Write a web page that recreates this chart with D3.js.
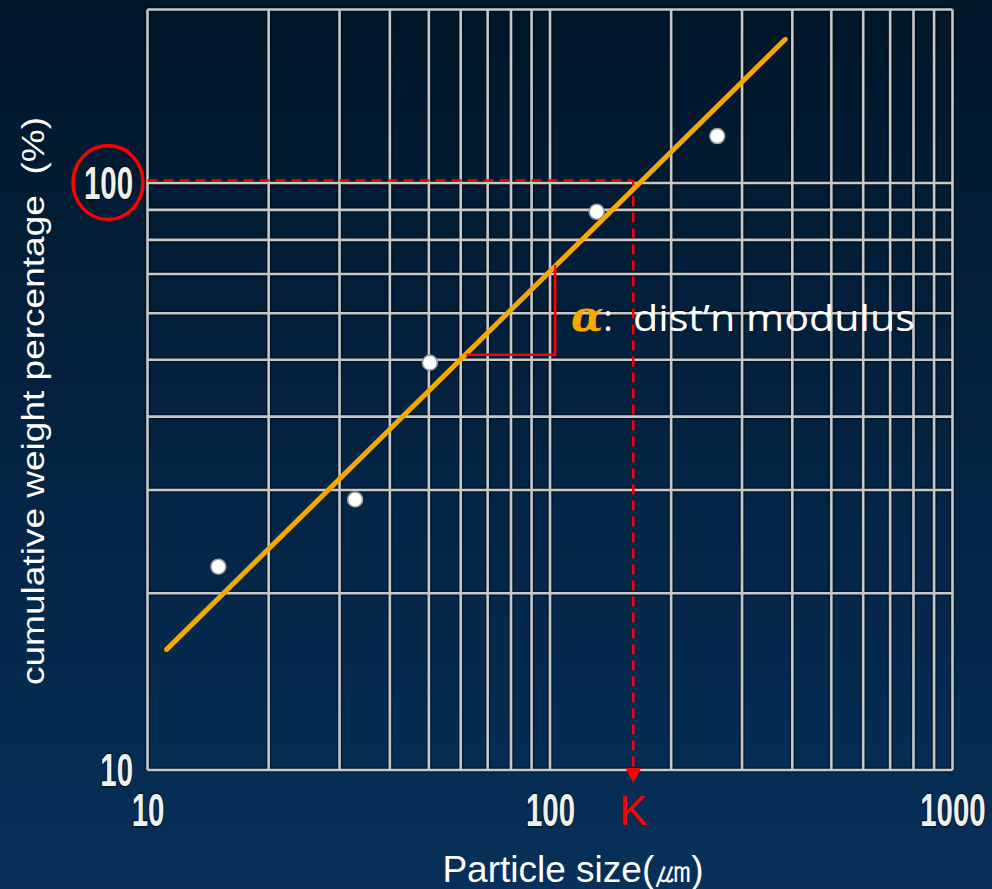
<!DOCTYPE html>
<html>
<head>
<meta charset="utf-8">
<script src="https://cdn.jsdelivr.net/npm/d3@7/dist/d3.min.js"></script>
<style>
  body { margin: 0; background: #001629; }
  svg { display: block; }
</style>
</head>
<body>
<div id="chart-area"></div>
<script>
// Tick labels and grid values
var xTicks = [10, 100, 1000];
var yTicks = [10, 100];
var xGrid = [10, 20, 30, 40, 50, 60, 70, 80, 90, 100, 200, 300, 400, 500, 600, 700, 800, 900, 1000];
var yGrid = [10, 20, 30, 40, 50, 60, 70, 80, 90, 100];

// Measured points: particle size (um) vs cumulative weight percentage
var sizes = [15.0, 32.8, 50.3, 130.6, 260.4];
var cumPct = [22.2, 28.9, 49.4, 89.3, 120.2];

// Fitted line end points
var fitSize = [11.16, 384.2];
var fitPct = [16.05, 175.7];

// K marker (size where the line crosses 100 %)
var kSize = 161;
var kPct = 101;

// Slope triangle corners
var slopeSize = [62, 103];
var slopePct = [51, 72.5];

var width = 992, height = 889;

var svg = d3.select("#chart-area")
    .append("svg")
        .attr("width", width)
        .attr("height", height);

// Background gradient
var defs = svg.append("defs");
var grad = defs.append("linearGradient")
    .attr("id", "bg")
    .attr("x1", 0).attr("y1", 0)
    .attr("x2", 0).attr("y2", 1);
grad.append("stop").attr("offset", "0%").attr("stop-color", "#001629");
grad.append("stop").attr("offset", "100%").attr("stop-color", "#07305a");

svg.append("rect")
    .attr("width", width)
    .attr("height", height)
    .attr("fill", "url(#bg)");

// Scales
var x = d3.scaleLog()
    .domain([10, 1000])
    .range([147.5, 952.5]);

var y = d3.scaleLog()
    .domain([10, 100])
    .range([770, 183]);

var yTop = y.invert(9.5);

// Grid
var grid = svg.append("g").attr("class", "grid");

function gridLines(sel, color, w, op) {
    sel.selectAll(null)
        .data(xGrid)
        .enter().append("line")
            .attr("x1", function(d) { return x(d); })
            .attr("x2", function(d) { return x(d); })
            .attr("y1", y(yTop))
            .attr("y2", y(10))
            .attr("stroke", color)
            .attr("stroke-width", w)
            .attr("opacity", op);

    sel.selectAll(null)
        .data(yGrid.concat([yTop]))
        .enter().append("line")
            .attr("x1", x(10))
            .attr("x2", x(1000))
            .attr("y1", function(d) { return y(d); })
            .attr("y2", function(d) { return y(d); })
            .attr("stroke", color)
            .attr("stroke-width", w)
            .attr("opacity", op);
}
gridLines(grid.append("g"), "#000000", 5.5, 0.35);
gridLines(grid.append("g"), "#c8c8c8", 2.6, 1);

// X axis
var xAxis = svg.append("g")
    .attr("transform", "translate(0," + y(10) + ")")
    .call(d3.axisBottom(x).tickValues(xTicks).tickSize(0).tickFormat(d3.format("d")));

// Y axis
var yAxis = svg.append("g")
    .attr("transform", "translate(" + x(10) + ",0)")
    .call(d3.axisLeft(y).tickValues(yTicks).tickSize(0).tickFormat(d3.format("d")));

var sx = 0.64;
[xAxis, yAxis].forEach(function(a) {
    a.select(".domain").remove();
    a.selectAll("text")
        .attr("font-family", "'Liberation Sans', Arial, sans-serif")
        .attr("font-weight", "bold")
        .attr("font-size", "46px")
        .attr("fill", "#eef0ee")
        .attr("stroke", "#000")
        .attr("stroke-width", 3)
        .attr("stroke-opacity", 0.5)
        .attr("paint-order", "stroke")
        .attr("transform", "scale(" + sx + ",1)");
});
xAxis.selectAll("text")
    .attr("text-anchor", "middle")
    .attr("y", 56)
    .attr("dy", 0);
yAxis.selectAll("text")
    .attr("text-anchor", "end")
    .attr("x", -14.5 / sx)
    .attr("dy", 15);

// Red dashed guide lines to K
svg.append("line")
    .attr("x1", x(10)).attr("x2", x(kSize))
    .attr("y1", y(kPct)).attr("y2", y(kPct))
    .attr("stroke", "#ff0000")
    .attr("stroke-width", 2.5)
    .attr("stroke-dasharray", "10,6");

svg.append("line")
    .attr("x1", x(kSize)).attr("x2", x(kSize))
    .attr("y1", y(kPct)).attr("y2", y(10) - 2)
    .attr("stroke", "#ff0000")
    .attr("stroke-width", 2.5)
    .attr("stroke-dasharray", "10,6");

// Arrow head
var ax = x(kSize), ay = y(10) + 13;
svg.append("path")
    .attr("d", "M" + (ax - 8) + "," + (ay - 15) + "L" + (ax + 8) + "," + (ay - 15) + "L" + ax + "," + ay + "Z")
    .attr("fill", "#ff0000");

// K label
svg.append("text")
    .attr("x", x(kSize))
    .attr("y", 825)
    .attr("text-anchor", "middle")
    .attr("font-family", "'Liberation Sans', Arial, sans-serif")
    .attr("font-size", "42px")
    .attr("fill", "#ff0000")
    .text("K");

// Red circle around the 100 label
svg.append("ellipse")
    .attr("cx", 108)
    .attr("cy", y(100) - 0.5)
    .attr("rx", 35)
    .attr("ry", 37)
    .attr("fill", "none")
    .attr("stroke", "#ff0000")
    .attr("stroke-width", 3.5);

// Fitted line
svg.append("line")
    .attr("x1", x(fitSize[0])).attr("y1", y(fitPct[0]))
    .attr("x2", x(fitSize[1])).attr("y2", y(fitPct[1]))
    .attr("stroke", "#f5a900")
    .attr("stroke-width", 5)
    .attr("stroke-linecap", "round");

// Slope triangle
svg.append("path")
    .attr("d", d3.line()
        .x(function(d) { return x(d[0]); })
        .y(function(d) { return y(d[1]); })([
            [slopeSize[0], slopePct[0]],
            [slopeSize[1], slopePct[0]],
            [slopeSize[1], slopePct[1]]
        ]))
    .attr("fill", "none")
    .attr("stroke", "#ff0000")
    .attr("stroke-width", 2.5);

// Data points
svg.selectAll("circle.pt")
    .data(sizes)
    .enter().append("circle")
        .attr("class", "pt")
        .attr("cx", function(d) { return x(d); })
        .attr("cy", function(d, i) { return y(cumPct[i]); })
        .attr("r", 7.5)
        .attr("fill", "#ffffff")
        .attr("stroke", "#9a9a9a")
        .attr("stroke-width", 1.5);

// Annotation
var note = svg.append("text")
    .attr("x", 571)
    .attr("y", 331)
    .attr("fill", "#ffffff")
    .attr("font-family", "'Open Sans', 'Noto Sans', sans-serif")
    .attr("font-size", "36px");
note.append("tspan")
    .attr("font-family", "'DejaVu Serif', 'Liberation Serif', serif")
    .attr("font-weight", "bold")
    .attr("font-style", "italic")
    .attr("font-size", "42px")
    .attr("fill", "#f5a900")
    .text("\u03b1");
note.append("tspan").text(": ");
note.append("tspan")
    .attr("x", 633)
    .attr("textLength", 282)
    .attr("lengthAdjust", "spacingAndGlyphs")
    .text("dist\u2019n  modulus");

// Y label
svg.append("text")
    .attr("transform", "translate(44,401) rotate(-90)")
    .attr("text-anchor", "middle")
    .attr("font-family", "'Liberation Sans', Arial, sans-serif")
    .attr("font-size", "31px")
    .attr("fill", "#ffffff")
    .attr("textLength", 568)
    .attr("lengthAdjust", "spacingAndGlyphs")
    .style("white-space", "pre")
    .text("cumulative weight percentage  (%)");

// X label
svg.append("text")
    .attr("x", 573)
    .attr("y", 882)
    .attr("text-anchor", "middle")
    .attr("font-family", "'Liberation Sans', Arial, sans-serif")
    .attr("font-size", "37px")
    .attr("fill", "#ffffff")
    .text("Particle size(\u339b)");
</script>
</body>
</html>
